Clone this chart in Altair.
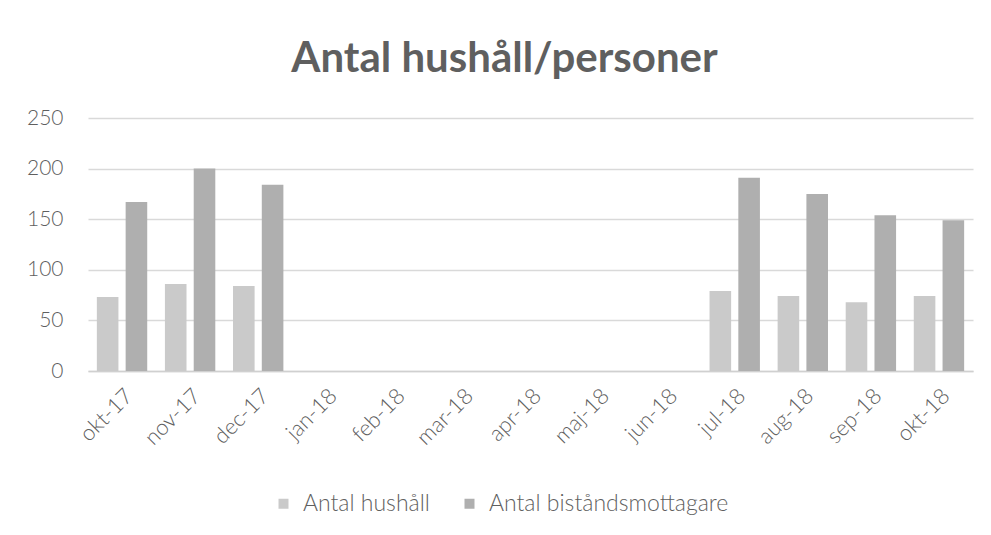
import altair as alt
import pandas as pd

months = ["okt-17", "nov-17", "dec-17", "jan-18", "feb-18", "mar-18", "apr-18",
          "maj-18", "jun-18", "jul-18", "aug-18", "sep-18", "okt-18"]
hushall = [73, 86, 84, None, None, None, None, None, None, 79, 74, 68, 74]
bistand = [167, 200, 184, None, None, None, None, None, None, 191, 175, 154, 149]
series = ["Antal hushåll", "Antal biståndsmottagare"]
colors = ["#cacaca", "#afafaf"]

rows = []
for m, h, b in zip(months, hushall, bistand):
    if h is not None:
        rows.append({"month": m, "series": series[0], "value": h})
    if b is not None:
        rows.append({"month": m, "series": series[1], "value": b})
df = pd.DataFrame(rows)

FONT = "Lato"
TXT = "#5f5f5f"

chart = alt.Chart(df).mark_bar().encode(
    x=alt.X("month:N", sort=months,
            scale=alt.Scale(domain=months, paddingInner=0.26, paddingOuter=0.13),
            axis=alt.Axis(title=None, labelAngle=-45, labelAlign="right", labelBaseline="top",
                          labelFontSize=22, labelColor=TXT, labelFont=FONT, labelFontWeight=300,
                          ticks=False, domainColor="#d0d0d0", domainWidth=1.5, labelPadding=14)),
    xOffset=alt.XOffset("series:N", sort=series,
                        scale=alt.Scale(domain=series, paddingInner=0.25, paddingOuter=0)),
    y=alt.Y("value:Q", scale=alt.Scale(domain=[0, 250]),
            axis=alt.Axis(title=None, values=[0, 50, 100, 150, 200, 250], domain=False, ticks=False,
                          labelFontSize=21, labelColor=TXT, labelFont=FONT, labelFontWeight=300,
                          gridColor="#d9d9d9", gridWidth=1.5, labelPadding=25)),
    color=alt.Color("series:N", sort=series,
                    scale=alt.Scale(domain=series, range=colors),
                    legend=alt.Legend(title=None, orient="none", direction="horizontal",
                                      legendX=184, legendY=374,
                                      symbolType="square", symbolSize=100, labelFontSize=23,
                                      labelColor=TXT, labelFont=FONT, labelFontWeight=300,
                                      columnPadding=28, labelOffset=8, labelLimit=0,
                                      symbolStrokeWidth=0)),
).properties(
    width=885, height=253,
    title=alt.TitleParams("Antal hushåll/personer", fontSize=42, font=FONT, fontWeight="bold",
                          color=TXT, anchor="middle", dx=-26, offset=26),
    autosize=alt.AutoSizeParams(type="none"),
    padding={"left": 80, "top": 110, "right": 8, "bottom": 150},
    background="white",
).configure_view(stroke=None)

chart.save("out.html", embed_options={"renderer": "svg", "actions": False})
